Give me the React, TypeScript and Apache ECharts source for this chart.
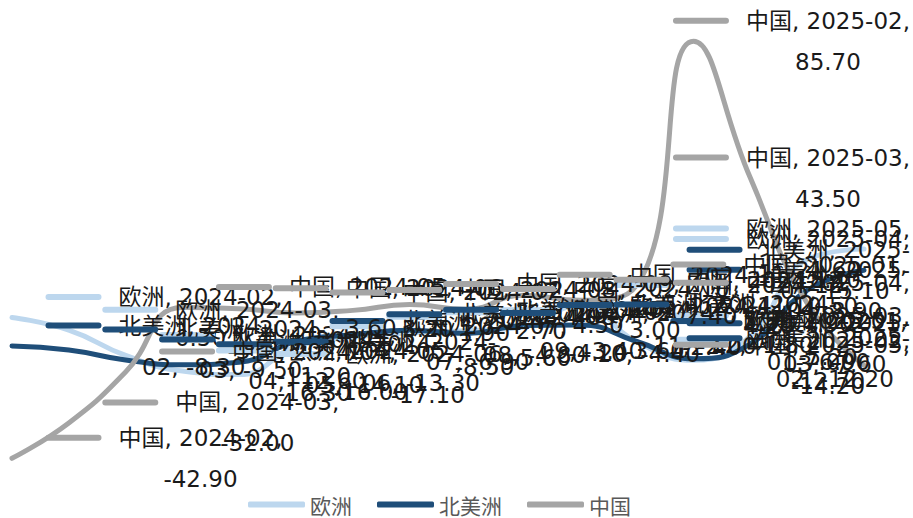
import React, { useEffect, useRef } from "react";
import * as echarts from "echarts";

const categories = [
  "2024-02", "2024-03", "2024-04", "2024-05", "2024-06", "2024-07", "2024-08", "2024-09",
  "2024-10", "2024-11", "2024-12", "2025-01", "2025-02", "2025-03", "2025-04", "2025-05",
];
const europe = [0.5, -3.4, -11.2, -16.0, -17.1, -8.5, -5.6, -4.2, -3.6, -2.4, 4.2, -7.0, -12.7, -5.2, 18.4, 21.6];
const northAmerica = [-8.3, -9.5, -12.6, -14.1, -13.3, -6.9, -4.8, -3.4, -4.4, -2.0, -1.8, -6.9, -12.2, -7.6, 8.9, 15.1];
const china = [-42.9, -32.0, -16.3, 3.6, 3.2, 1.9, 2.7, 4.5, 3.0, 7.4, 5.8, 10.5, 85.7, 43.5, 4.9, -14.2];

const seriesNames = ["欧洲", "北美洲", "中国"];
const seriesColors = ["#BDD7EE", "#1F4E79", "#A5A5A5"];
const seriesValues = [europe, northAmerica, china];

const FONT = "'DejaVu Sans', 'Noto Sans CJK SC', sans-serif";
const LEGEND_FONT = "'Noto Sans CJK SC', sans-serif";

export default function App() {
  const ref = useRef<HTMLDivElement>(null);
  useEffect(() => {
    if (!ref.current) return;
    const chart = echarts.init(ref.current, null, { renderer: "svg" });
    const series = seriesNames.map((name, si) => ({
      name,
      type: "line",
      data: seriesValues[si],
      smooth: true,
      symbol: "circle",
      symbolSize: 1,
      showSymbol: true,
      itemStyle: { color: seriesColors[si] },
      lineStyle: { width: 5, color: seriesColors[si], cap: "round" },
      label: {
        show: true,
        position: "right",
        distance: 33,
        lineHeight: 41,
        formatter: (p: any) => {
          const cat = categories[p.dataIndex];
          const val = Number(p.value).toFixed(2);
          if (name === "北美洲") {
            const [yr, mm] = cat.split("-");
            return `{k|}{g|}{t|${name}, ${yr}-}\n{p|}{t|${mm}, ${val}}`;
          }
          return `{k|}{g|}{t|${name}, ${cat},}\n{p|}{t|${val}}`;
        },
        rich: {
          k: { width: 56, height: 6, borderRadius: 3, backgroundColor: seriesColors[si], lineHeight: 41 },
          g: { width: 17, lineHeight: 41 },
          p: { width: 73, lineHeight: 41 },
          t: { fontSize: 23, color: "#1a1a1a", align: "center", fontFamily: FONT, lineHeight: 41 },
        },
      },
      labelLayout: (params: any) => {
        const r = params.labelRect;
        const over = r.x + r.width - 910;
        return over > 0 ? { dx: -over } : {};
      },
    }));
    chart.setOption({
      animation: false,
      grid: { left: 12, right: 49, top: 0, bottom: 38 },
      legend: {
        data: seriesNames,
        top: 489,
        left: 243,
        icon: "roundRect",
        itemWidth: 57,
        itemHeight: 6,
        itemGap: 25,
        itemTextGap: 5,
        textStyle: { fontSize: 21, color: "#595959", fontFamily: LEGEND_FONT },
      },
      xAxis: { type: "category", data: categories, boundaryGap: false, show: false },
      yAxis: { type: "value", min: -49.6, max: 98.4, show: false },
      series,
    });
    return () => chart.dispose();
  }, []);
  return (
    <div
      ref={ref}
      style={{ position: "fixed", left: 0, top: 0, width: 913, height: 518, background: "#fff" }}
    />
  );
}
